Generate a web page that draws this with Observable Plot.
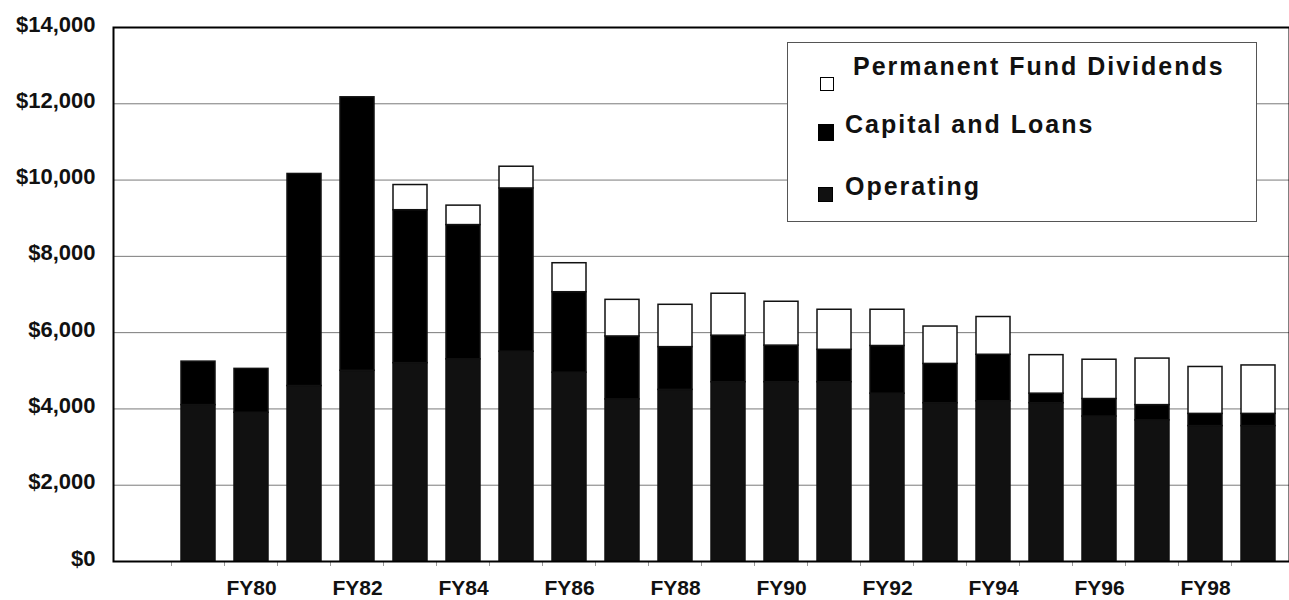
<!DOCTYPE html>
<html>
<head>
<meta charset="utf-8">
<script src="https://cdn.jsdelivr.net/npm/d3@7"></script>
<script src="https://cdn.jsdelivr.net/npm/@observablehq/plot@0.6"></script>
<style>
  html, body { margin: 0; padding: 0; background: #fff; }
  #wrap { position: relative; width: 1289px; height: 600px; }
  #legend {
    position: absolute; left: 787px; top: 42px; width: 468px; height: 178px;
    border: 1px solid #555; background: #fff;
    font-family: "Liberation Sans", Arial, sans-serif; font-weight: bold;
    font-size: 25px; letter-spacing: 2px; color: #111;
  }
  #legend .t { position: absolute; line-height: 25px; white-space: nowrap; }
  #legend .sw { position: absolute; box-sizing: border-box; }
</style>
</head>
<body>
<div id="wrap">
  <div id="chart"></div>
  <div id="legend"></div>
</div>
<script>
// ---- data (US$ millions) ----
const years = ["FY79","FY80","FY81","FY82","FY83","FY84","FY85","FY86","FY87","FY88","FY89",
               "FY90","FY91","FY92","FY93","FY94","FY95","FY96","FY97","FY98","FY99"];
const operating = [4100, 3900, 4600, 5000, 5200, 5300, 5500, 4950, 4250, 4500, 4700,
                   4700, 4700, 4400, 4150, 4200, 4150, 3800, 3700, 3550, 3550];
const capitalLoans = [1140, 1150, 5560, 7170, 4010, 3520, 4280, 2110, 1650, 1120, 1220,
                      960, 850, 1250, 1030, 1220, 250, 460, 400, 320, 320];
const dividends = [0, 0, 0, 0, 660, 510, 570, 760, 960, 1110, 1100,
                   1150, 1050, 950, 980, 990, 1010, 1030, 1220, 1230, 1270];
const seriesNames = ["Operating", "Capital and Loans", "Permanent Fund Dividends"];
const seriesColors = ["#111111", "#000000", "#ffffff"];
const xTickLabels = ["FY80","FY82","FY84","FY86","FY88","FY90","FY92","FY94","FY96","FY98"];
const yTicks = [0, 2000, 4000, 6000, 8000, 10000, 12000, 14000];
const legendOrder = ["Permanent Fund Dividends", "Capital and Loans", "Operating"];

const rows = years.flatMap((yr, i) => [
  {year: yr, series: seriesNames[0], value: operating[i]},
  {year: yr, series: seriesNames[1], value: capitalLoans[i]},
  {year: yr, series: seriesNames[2], value: dividends[i]}
]).filter(d => d.value > 0);

const chart = Plot.plot({
  width: 1289, height: 600,
  marginLeft: 113, marginRight: 0, marginTop: 27, marginBottom: 39,
  style: {fontFamily: "'Liberation Sans', Arial, sans-serif", fontWeight: "bold", background: "#fff", color: "#111"},
  x: {domain: years, paddingInner: 0.36, paddingOuter: 0.18, insetLeft: 53, label: null},
  y: {domain: [0, 14000], label: null},
  color: {domain: seriesNames, range: seriesColors},
  marks: [
    Plot.gridY({ticks: yTicks, stroke: "#7a7a7a", strokeOpacity: 1, strokeWidth: 1}),
    Plot.barY(rows, {x: "year", y: "value", fill: "series", stroke: "#111", strokeWidth: 1.5}),
    Plot.axisY({ticks: yTicks, tickSize: 0, tickPadding: 18, tickFormat: d3.format("$,"), fontSize: 22, dy: -3, label: null}),
    Plot.axisX({ticks: years, tickSize: 5, text: null, dx: -27, stroke: "#999", label: null}),
    Plot.axisX({ticks: xTickLabels, tickSize: 0, tickPadding: 19, fontSize: 21, label: null}),
    Plot.frame({stroke: "#000", strokeWidth: 2})
  ]
});
document.getElementById("chart").appendChild(chart);

// ---- legend ----
const legend = document.getElementById("legend");
const legendLayout = [
  {text: {left: 65, top: 11}, sw: {left: 32, top: 34, w: 14, h: 14}},
  {text: {left: 57, top: 69}, sw: {left: 30, top: 81, w: 16, h: 17}},
  {text: {left: 57, top: 131}, sw: {left: 30, top: 144, w: 15, h: 15}}
];
legendOrder.forEach((name, i) => {
  const L = legendLayout[i];
  const col = seriesColors[seriesNames.indexOf(name)];
  const sw = document.createElement("div");
  sw.className = "sw";
  Object.assign(sw.style, {left: L.sw.left + "px", top: L.sw.top + "px", width: L.sw.w + "px", height: L.sw.h + "px",
    background: col, border: "1.5px solid #000"});
  legend.appendChild(sw);
  const t = document.createElement("div");
  t.className = "t";
  t.textContent = name;
  Object.assign(t.style, {left: L.text.left + "px", top: L.text.top + "px"});
  legend.appendChild(t);
});
</script>
</body>
</html>
